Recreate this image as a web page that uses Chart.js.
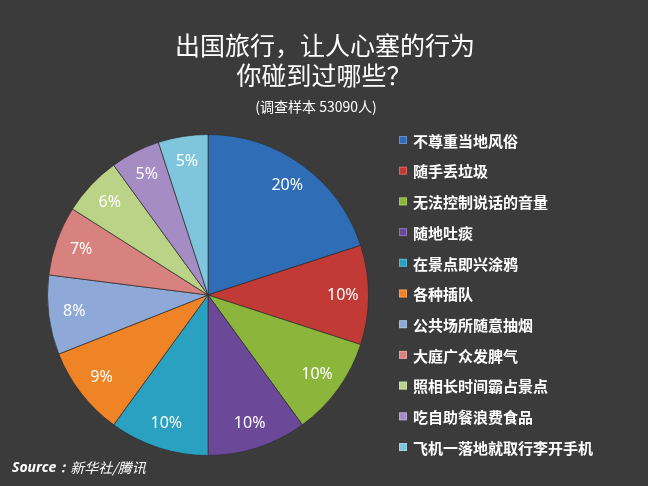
<!DOCTYPE html>
<html>
<head>
<meta charset="utf-8">
<script src="https://cdn.jsdelivr.net/npm/chart.js@4"></script>
<style>
html,body{margin:0;padding:0;background:#3b3b3b;}
#wrap{width:648px;height:486px;position:relative;}
</style>
</head>
<body>
<div id="wrap"><canvas id="c" width="648" height="486"></canvas></div>
<script>
const categories = ["不尊重当地风俗","随手丢垃圾","无法控制说话的音量","随地吐痰","在景点即兴涂鸦","各种插队","公共场所随意抽烟","大庭广众发脾气","照相长时间霸占景点","吃自助餐浪费食品","飞机一落地就取行李开手机"];
const values = [20,10,10,10,10,9,8,7,6,5,5];
const colors = ["#2f6db6","#c23a36","#8cb53c","#6c4898","#2aa1c0","#ef8427","#8ea9d8","#d8827f","#bad387","#a58dc4","#7fc6dd"];
const titleLines = ["出国旅行，让人心塞的行为","你碰到过哪些？"];
const subtitle = "(调查样本 53090人)";
const sourceLatin = "Source：";
const sourceCjk = "新华社/腾讯";

const CJK = '"Noto Sans CJK SC", "Noto Sans", sans-serif';

const decor = {
  id: 'decor',
  beforeDraw(chart) {
    const ctx = chart.ctx;
    ctx.save();
    ctx.fillStyle = '#3b3b3b';
    ctx.fillRect(0, 0, chart.width, chart.height);
    ctx.restore();
  },
  afterDatasetsDraw(chart) {
    const ctx = chart.ctx;
    const meta = chart.getDatasetMeta(0);
    ctx.save();
    ctx.fillStyle = '#ffffff';
    ctx.font = '16px "Noto Sans", sans-serif';
    ctx.textAlign = 'center';
    ctx.textBaseline = 'middle';
    meta.data.forEach((arc, i) => {
      const p = arc.getProps(['x','y','startAngle','endAngle','outerRadius'], true);
      const a = (p.startAngle + p.endAngle) / 2;
      const r = p.outerRadius * 0.84;
      ctx.fillText(values[i] + '%', p.x + Math.cos(a) * r, p.y + Math.sin(a) * r);
    });
    ctx.font = '25px ' + CJK;
    ctx.fillText(titleLines[0], 325, 45);
    ctx.fillText(titleLines[1], 324, 75);
    ctx.font = '14px ' + CJK;
    ctx.fillText(subtitle, 316, 107);
    ctx.textAlign = 'left';
    ctx.font = 'bold 15px ' + CJK;
    categories.forEach((c, i) => {
      const y = 140 + i * 30.7;
      ctx.fillStyle = colors[i];
      ctx.fillRect(399, y - 4, 8, 8);
      ctx.strokeStyle = 'rgba(255,255,255,0.25)';
      ctx.lineWidth = 1;
      ctx.strokeRect(399.5, y - 3.5, 7, 7);
      ctx.fillStyle = '#ffffff';
      ctx.fillText(c, 413, y + 1);
    });
    ctx.font = 'italic bold 14px "Noto Sans", sans-serif';
    ctx.fillText(sourceLatin, 12, 468);
    const w = ctx.measureText(sourceLatin).width;
    ctx.font = 'italic 14px ' + CJK;
    ctx.fillText(sourceCjk, 12 + w, 468);
    ctx.restore();
  }
};

new Chart(document.getElementById('c'), {
  type: 'pie',
  data: {
    labels: categories,
    datasets: [{
      data: values,
      backgroundColor: colors,
      borderColor: 'rgba(45,45,45,0.7)',
      borderWidth: 1
    }]
  },
  options: {
    responsive: false,
    animation: false,
    layout: { padding: { left: 47, right: 279, top: 134, bottom: 30 } },
    plugins: {
      legend: { display: false },
      tooltip: { enabled: false },
      title: { display: false }
    }
  },
  plugins: [decor]
});
</script>
</body>
</html>
